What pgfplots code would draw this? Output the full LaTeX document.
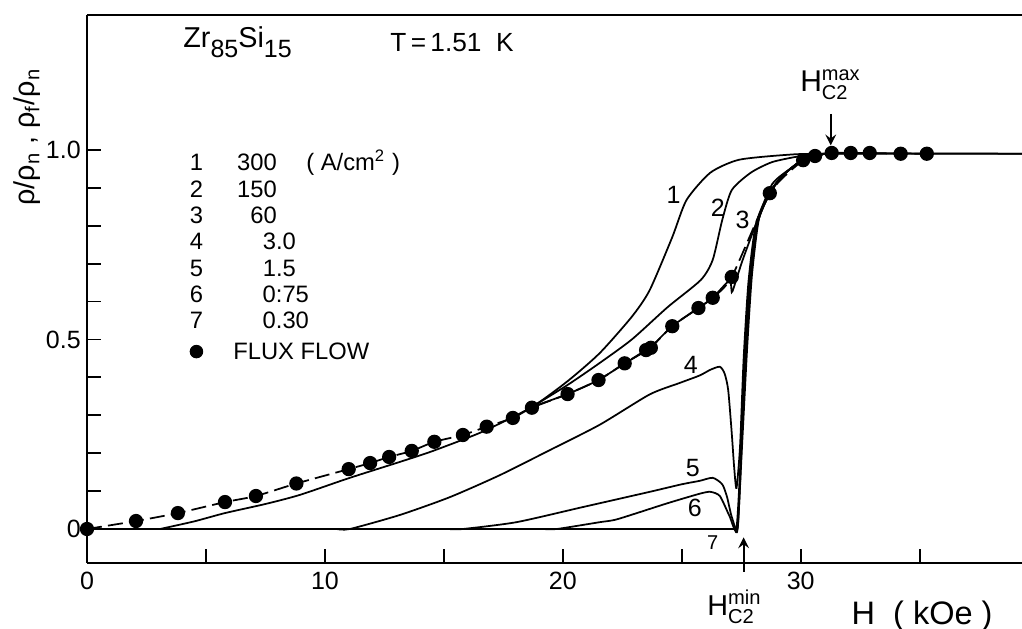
\documentclass[border=0pt]{standalone}
\usepackage{fontspec}
\setmainfont{Liberation Sans}
\usepackage{amsmath}
\usepackage{pgfplots}
\pgfplotsset{compat=1.18}

\begin{document}
\begin{tikzpicture}
\begin{axis}[
at={(0,0)},anchor=south west,
scale only axis,width=374pt,height=219.2pt,
xmin=0,xmax=39.3,ymin=-0.0897,ymax=1.356,
axis x line=box,axis y line=left,
axis line style={-,line width=0.8pt},
tick align=inside,xtick pos=left,ytick pos=left,
major tick length=5.5pt,
tick style={line width=0.7pt,black},
xtick={0,5,10,15,20,25,30,35},
xticklabels={0,,10,,20,,30,},
ytick={0,0.1,0.2,0.3,0.4,0.5,0.6,0.7,0.8,0.9,1},
yticklabels={0,,,,,0.5,,,,,1.0},
tick label style={font=\fontsize{10}{12}\selectfont},
yticklabel style={xshift=1pt},
clip=false,
curve/.style={black,no markers,line width=0.7pt,smooth,tension=0.4},
]
% flux flow
\addplot[black,line width=0.7pt,smooth,tension=0.4,dash pattern=on 6pt off 2.5pt,mark=*,mark size=2.5pt,mark options={solid}] coordinates {
(0,0)(2.06,0.021)(3.82,0.042)(5.8,0.071)(7.1,0.087)(8.8,0.12)(11.0,0.158)(11.9,0.174)
(12.7,0.19)(13.65,0.206)(14.6,0.23)(15.8,0.248)(16.8,0.27)(17.9,0.293)(18.7,0.32)
(20.2,0.356)(21.5,0.393)(22.6,0.437)(23.5,0.472)(23.7,0.478)(24.6,0.535)(25.7,0.583)
(26.3,0.61)(27.1,0.665)(28.7,0.886)(30.1,0.973)(30.6,0.984)(31.3,0.992)(32.1,0.992)
(32.9,0.992)(34.2,0.99)(35.3,0.99)};
% curve 1
\addplot[curve] coordinates {(3.07,0)(4.5,0.02)(5.8,0.042)(7.5,0.066)(8.95,0.09)(11.0,0.134)
(13.15,0.177)(14.5,0.205)(16.6,0.256)(18.7,0.322)(20.2,0.39)(21.55,0.464)(22.9,0.56)
(23.65,0.63)(24.6,0.77)(25.2,0.868)(26.2,0.94)(27.4,0.974)(29.4,0.987)(31,0.99)(39.3,0.99)};
% curve 2
\addplot[curve] coordinates {(18.7,0.322)(20.2,0.38)(21.55,0.438)(22.9,0.5)(24.4,0.585)
(25.8,0.657)(26.3,0.71)(26.7,0.815)(27.1,0.894)(27.9,0.94)(28.8,0.968)(30,0.984)(31,0.99)};
% curve 3
\addplot[curve] coordinates {(18.7,0.322)(20.2,0.356)(21.5,0.393)(22.6,0.437)(23.6,0.475)
(24.6,0.535)(25.7,0.583)(26.3,0.61)(27.0,0.655)(27.1,0.625)(27.2,0.64)(27.56,0.71)
(28.15,0.81)(28.8,0.91)(29.66,0.955)(30.1,0.975)(31,0.99)};
% curve 4
\addplot[curve] coordinates {(10.5,0)(11.05,0)(13.15,0.037)(15.25,0.084)(17.35,0.142)(19.45,0.208)
(21.55,0.275)(23.65,0.355)(24.9,0.385)(25.75,0.405)(26.2,0.42)(26.6,0.428)(26.8,0.41)
(26.95,0.367)(27.1,0.253)(27.2,0.164)(27.3,0.108)(27.45,0.22)(27.6,0.45)(27.8,0.65)
(28.1,0.8)(28.6,0.88)(29.2,0.93)(30,0.97)(31,0.99)};
% curve 5
\addplot[curve] coordinates {(15.2,0)(15.8,0)(18.05,0.018)(20.85,0.058)(23.65,0.098)(25.0,0.118)
(25.75,0.127)(26.3,0.135)(26.7,0.118)(26.9,0.085)(27.1,0.032)(27.35,0.003)(27.5,0.2)
(27.65,0.45)(27.85,0.65)(28.15,0.8)(28.65,0.88)(29.2,0.93)(30,0.97)(31,0.99)};
% curve 6
\addplot[curve] coordinates {(19.2,0)(19.75,0)(21.55,0.018)(22.3,0.026)(24.4,0.068)(25.75,0.093)
(26.2,0.098)(26.6,0.087)(27.0,0.035)(27.3,0.003)(27.5,0.22)(27.7,0.47)(27.9,0.66)
(28.2,0.81)(28.7,0.885)(29.2,0.93)(30,0.97)(31,0.99)};
% curve 7
\addplot[black,no markers,line width=0.7pt] coordinates {(0,0)(26.9,0)};
\addplot[curve] coordinates {(26.6,0)(26.9,0)(27.2,0)(27.35,0.003)(27.55,0.24)(27.75,0.48)(27.95,0.67)
(28.25,0.82)(28.75,0.89)(29.3,0.935)(30,0.97)(31,0.99)(39.3,0.99)};

% curve labels
\node[font=\fontsize{10}{12}\selectfont] at (axis cs:24.66,0.881) {1};
\node[font=\fontsize{10}{12}\selectfont] at (axis cs:26.51,0.847) {2};
\node[font=\fontsize{10}{12}\selectfont] at (axis cs:27.56,0.815) {3};
\node[font=\fontsize{10}{12}\selectfont] at (axis cs:25.38,0.433) {4};
\node[font=\fontsize{10}{12}\selectfont] at (axis cs:25.46,0.161) {5};
\node[font=\fontsize{10}{12}\selectfont] at (axis cs:25.55,0.055) {6};
\node[font=\fontsize{8}{10}\selectfont] at (axis cs:26.3,-0.037) {7};

% titles
\node[anchor=base west,font=\fontsize{11.5}{13}\selectfont,inner sep=0pt] at (axis cs:4.03,1.27)
  {Zr\raisebox{-4pt}{\fontsize{10}{12}\selectfont 85}Si\raisebox{-4pt}{\fontsize{10}{12}\selectfont 15}};
\node[anchor=base west,font=\fontsize{10.5}{12}\selectfont,inner sep=0pt] at (axis cs:12.73,1.259) {T\,=\,1.51\ \ K};

% legend
\begin{scope}[every node/.style={font=\fontsize{9.5}{11}\selectfont,inner sep=0pt}]
\node[anchor=base west] at (axis cs:4.3,0.9446) {1};
\node[anchor=base west] at (axis cs:4.3,0.8752) {2};
\node[anchor=base west] at (axis cs:4.3,0.8058) {3};
\node[anchor=base west] at (axis cs:4.3,0.7364) {4};
\node[anchor=base west] at (axis cs:4.3,0.6670) {5};
\node[anchor=base west] at (axis cs:4.3,0.5976) {6};
\node[anchor=base west] at (axis cs:4.3,0.5282) {7};
\node[anchor=base east] at (axis cs:8.0,0.9446) {300};
\node[anchor=base east] at (axis cs:8.0,0.8752) {150};
\node[anchor=base east] at (axis cs:8.0,0.8058) {60};
\node[anchor=base east] at (axis cs:8.8,0.7364) {3.0};
\node[anchor=base east] at (axis cs:8.8,0.6670) {1.5};
\node[anchor=base east] at (axis cs:9.35,0.5976) {0:75};
\node[anchor=base east] at (axis cs:9.35,0.5282) {0.30};
\node[anchor=base west] at (axis cs:9.2,0.9446) {( A/cm\textsuperscript{2} )};
\node[anchor=base west] at (axis cs:6.13,0.4459) {FLUX FLOW};
\end{scope}
\addplot[black,only marks,mark=*,mark size=2.5pt] coordinates {(4.6,0.468)};

% axis titles
\node[anchor=base,font=\fontsize{13}{15}\selectfont] at (axis cs:35.1,-0.253) {H\ \ ( kOe )};
\node[rotate=90,font=\fontsize{11.5}{13}\selectfont] at (axis cs:-2.5,1.034) {ρ/ρ\textsubscript{n} , ρ\textsubscript{f}/ρ\textsubscript{n}};

% Hc2 markers
\node[anchor=base west,font=\fontsize{12}{14}\selectfont,inner sep=0pt] at (axis cs:29.96,1.155) {H$_{\text{C2}}^{\text{max}}$};
\draw[-stealth,line width=0.9pt] (axis cs:31.26,1.095) -- (axis cs:31.26,1.012);
\node[anchor=base west,font=\fontsize{11.5}{14}\selectfont,inner sep=0pt] at (axis cs:26.05,-0.227) {H$_{\text{C2}}^{\text{min}}$};
\draw[-stealth,line width=0.9pt] (axis cs:27.6,-0.113) -- (axis cs:27.6,-0.022);
\end{axis}
\pgfresetboundingbox
\path (-34.8pt,-26pt) rectangle (374pt,225.2pt);
\end{tikzpicture}
\end{document}
